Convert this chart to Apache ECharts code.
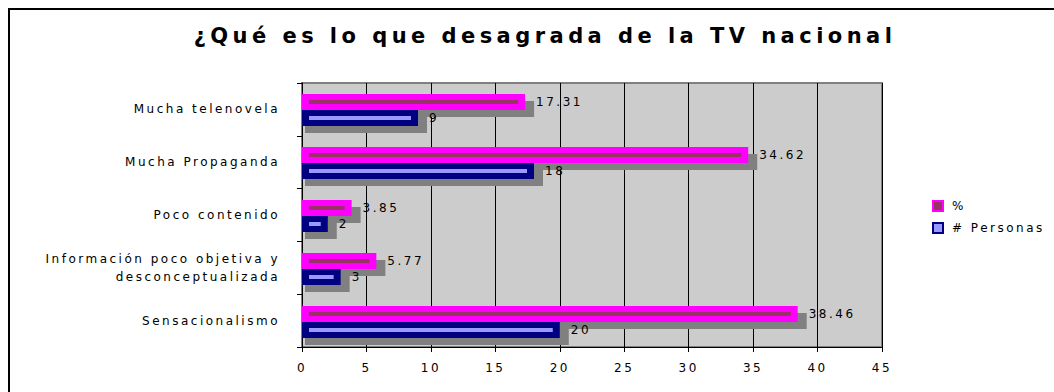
<!DOCTYPE html>
<html>
<head>
<meta charset="utf-8">
<script src="https://cdn.jsdelivr.net/npm/echarts@6/dist/echarts.min.js"></script>
<style>
  html, body { margin: 0; padding: 0; background: #ffffff; }
  #chart { width: 1054px; height: 392px; }
  /* wide, airy lettering for every label */
  #chart svg text { letter-spacing: 2.5px; }
  #chart svg text[style*="bold"] { letter-spacing: 4.45px; }
</style>
</head>
<body>
<div id="chart"></div>
<script>
// Reasons listed from top to bottom
const categories = [
  'Mucha telenovela',
  'Mucha Propaganda',
  'Poco contenido',
  'Información poco objetiva y\ndesconceptualizada',
  'Sensacionalismo'
];
const percentValues = [17.31, 34.62, 3.85, 5.77, 38.46];
const peopleValues = [9, 18, 2, 3, 20];
const xTicks = { min: 0, max: 45, interval: 5 };

const FONT = '"DejaVu Sans", Verdana, sans-serif';

// Each series: outer (border) colour, inner stripe colour
const looks = [
  { name: '%', outer: '#ff00ff', inner: '#993366' },
  { name: '# Personas', outer: '#000080', inner: '#9999ff' }
];

function makeRenderer(s) {
  return function (params, api) {
    const v = api.value(0);
    const cat = api.value(1);
    const p0 = api.coord([0, cat]);
    const p1 = api.coord([v, cat]);
    const band = api.size([0, 1])[1];
    const h = Math.round(band * 0.3);
    const cy = p0[1];
    const y0 = Math.round(s === 0 ? cy - h + 1 : cy + 1);
    const x0 = p0[0];
    const w = p1[0] - x0;
    const innerH = 4;
    return {
      type: 'group',
      children: [
        { // drop shadow
          type: 'rect',
          shape: { x: x0 + 3, y: y0 + 7, width: w + 6, height: h },
          style: { fill: '#808080' }
        },
        { // outer bar
          type: 'rect',
          shape: { x: x0, y: y0, width: w, height: h },
          style: { fill: looks[s].outer }
        },
        { // inner stripe
          type: 'rect',
          shape: { x: x0 + 7, y: y0 + (h - innerH) / 2, width: Math.max(w - 14, 0), height: innerH },
          style: { fill: looks[s].inner }
        },
        { // value label
          type: 'text',
          style: {
            text: String(v),
            x: p1[0] + 11,
            y: y0 + h / 2,
            verticalAlign: 'middle',
            align: 'left',
            font: '12px ' + FONT,
            fill: '#000000'
          }
        }
      ]
    };
  };
}

const chart = echarts.init(document.getElementById('chart'), null, { renderer: 'svg' });

chart.setOption({
  animation: false,
  backgroundColor: '#ffffff',
  title: {
    text: '¿Qué es lo que desagrada de la TV nacional',
    left: 540,
    top: 20,
    textAlign: 'center',
    textStyle: { fontFamily: FONT, fontSize: 21, fontWeight: 'bold', color: '#000000' }
  },
  legend: {
    orient: 'vertical',
    left: 927,
    top: 195,
    itemWidth: 10,
    itemHeight: 10,
    itemGap: 10,
    icon: 'rect',
    textStyle: { fontFamily: FONT, fontSize: 12, color: '#000000', padding: [0, 0, 0, 4] },
    data: [
      { name: '%', itemStyle: { color: '#993366', borderColor: '#ff00ff', borderWidth: 2 } },
      { name: '# Personas', itemStyle: { color: '#9999ff', borderColor: '#000080', borderWidth: 2 } }
    ]
  },
  graphic: [
    { // chart frame
      type: 'rect',
      shape: { x: 9, y: 9, width: 1100, height: 500 },
      style: { fill: null, stroke: '#000000', lineWidth: 2 },
      z: 100
    }
  ],
  grid: {
    left: 302,
    right: 172,
    top: 83,
    bottom: 45,
    show: true,
    backgroundColor: '#cccccc',
    borderColor: '#808080',
    borderWidth: 2
  },
  xAxis: {
    type: 'value',
    min: xTicks.min,
    max: xTicks.max,
    interval: xTicks.interval,
    axisLine: { show: true, lineStyle: { color: '#000000', width: 1 } },
    axisTick: { show: true, length: 5, lineStyle: { color: '#000000' } },
    axisLabel: { fontFamily: FONT, fontSize: 12, color: '#000000', margin: 15 },
    splitLine: { show: true, lineStyle: { color: '#000000', width: 1 } }
  },
  yAxis: {
    type: 'category',
    inverse: true,
    data: categories,
    axisLine: { show: true, lineStyle: { color: '#000000', width: 1 } },
    axisTick: { show: true, length: 5, lineStyle: { color: '#000000' } },
    axisLabel: { fontFamily: FONT, fontSize: 12, color: '#000000', margin: 22, lineHeight: 18, align: 'right' },
    splitLine: { show: false }
  },
  series: [
    {
      name: '%',
      type: 'custom',
      renderItem: makeRenderer(0),
      encode: { x: 0, y: 1 },
      itemStyle: { color: '#993366' },
      data: percentValues.map((v, i) => [v, i])
    },
    {
      name: '# Personas',
      type: 'custom',
      renderItem: makeRenderer(1),
      encode: { x: 0, y: 1 },
      itemStyle: { color: '#9999ff' },
      data: peopleValues.map((v, i) => [v, i])
    }
  ]
});
</script>
</body>
</html>
